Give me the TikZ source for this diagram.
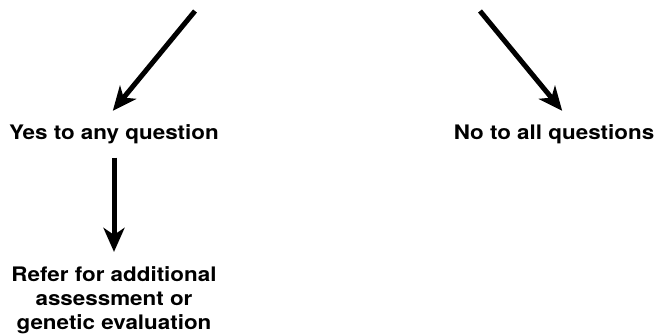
\documentclass[tikz,border=0pt]{standalone}
\usepackage{fontspec}
\setmainfont[FakeStretch=1.12]{TeX Gyre Heros}
\usetikzlibrary{
    arrows.meta,
    positioning
}
\tikzset{
    answer/.style={font=\fontsize{20}{24}\selectfont\bfseries, inner sep=0pt, anchor=base},
    bigarrow/.style={line width=5pt, -{Stealth[length=24pt, width=21pt, inset=7pt]}}
}

\begin{document}
\begin{tikzpicture}[x=1pt, y=-1pt]
    \useasboundingbox (0, 0) rectangle (656, 335);
    \coordinate (tl) at (195, 11);
    \coordinate (tr) at (480, 11);
    \node[answer] (yes) at (114, 139) {Yes to any question};
    \node[answer] (no) at (554, 139) {No to all questions};
    \node[answer, align=center] (ref) at (114, 329) {Refer for additional\\assessment or\\genetic evaluation};
    \draw
    (tl) edge[bigarrow, shorten >=17pt] ([xshift=-12pt]yes.north)
    (tr) edge[bigarrow, shorten >=17pt] ([xshift=19pt]no.north)
    (yes) edge[bigarrow, shorten <=14pt, shorten >=14pt] (ref);
\end{tikzpicture}
\end{document}
